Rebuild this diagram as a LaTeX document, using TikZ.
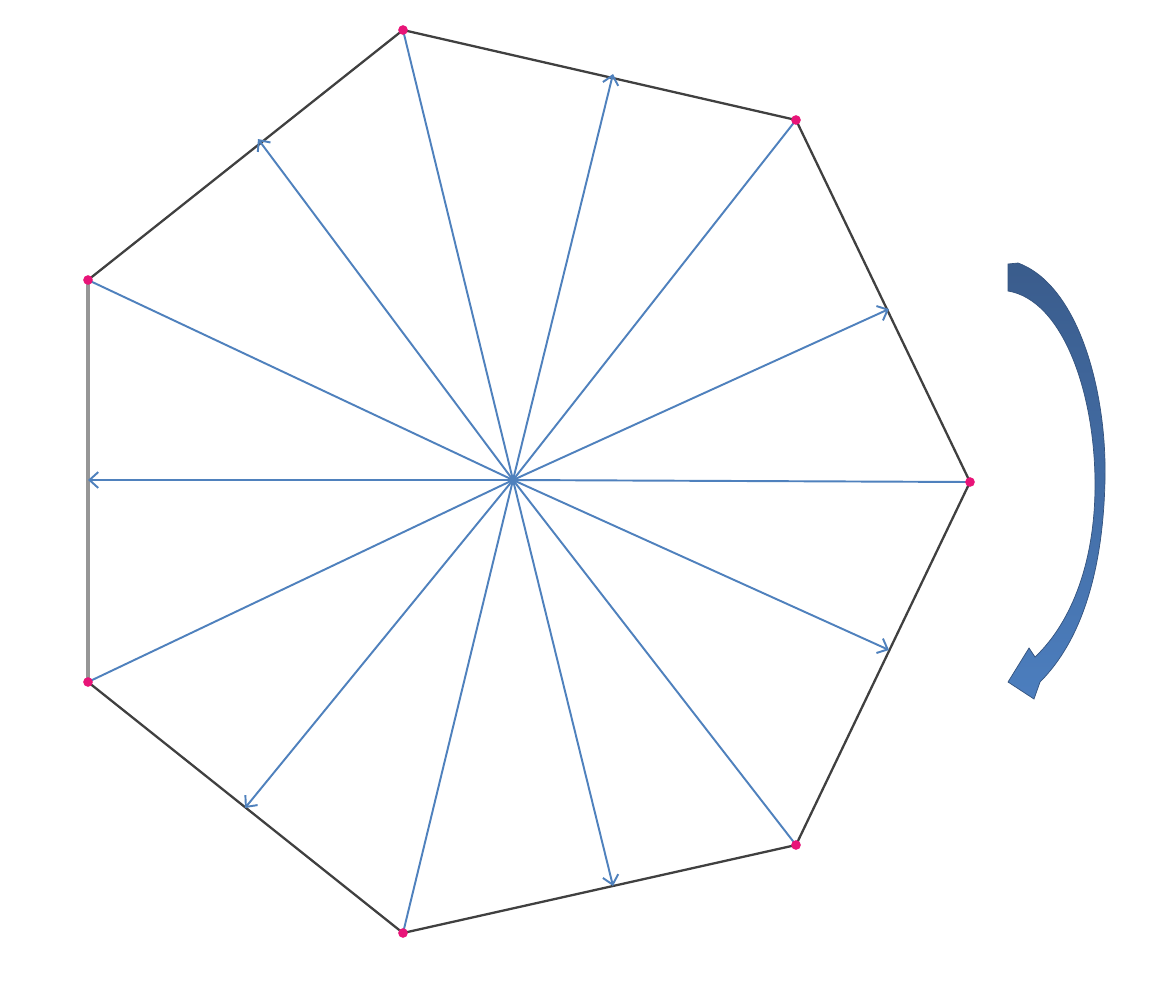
\documentclass[tikz,border=0pt]{standalone}
\usetikzlibrary{arrows.meta}
\definecolor{rayblue}{RGB}{79,129,189}
\definecolor{edgegray}{RGB}{64,64,64}
\definecolor{lightedge}{RGB}{150,150,150}
\definecolor{dotpink}{RGB}{232,20,120}
\definecolor{arrtop}{RGB}{58,92,140}
\definecolor{arrbot}{RGB}{76,126,190}
\tikzset{
  ray/.style={draw=rayblue, line width=1.1pt},
  rayarrow/.style={ray, -{Straight Barb[length=5pt,width=9pt,line width=1.1pt]}},
  edge/.style={draw=edgegray, line width=1.3pt},
  lightedgestyle/.style={draw=lightedge, line width=2pt},
  vdot/.style={circle, fill=dotpink, inner sep=0pt, minimum size=5.5pt},
}
\begin{document}
\begin{tikzpicture}[x=0.02cm, y=-0.02cm]
\useasboundingbox (0,0) rectangle (1170,988);
\fill[white] (0,0) rectangle (1170,988);
% center and vertices
\coordinate (C) at (513,480);
\coordinate (V0) at (970,482);
\coordinate (V1) at (796,845);
\coordinate (V2) at (403,933);
\coordinate (V3) at (88,682);
\coordinate (V4) at (88,280);
\coordinate (V5) at (403,30);
\coordinate (V6) at (796,120);
% edge targets
\coordinate (M56) at (613,74);
\coordinate (M60) at (889,309);
\coordinate (M01) at (889,650);
\coordinate (M12) at (613,886);
\coordinate (M23) at (245,808);
\coordinate (M34) at (88,480);
\coordinate (M45) at (258,139);
% edges
\draw[edge] (V4) -- (V5) -- (V6) -- (V0) -- (V1) -- (V2) -- (V3);
\draw[lightedgestyle] (V3) -- (V4);
% rays to vertices
\foreach \v in {V0,V1,V2,V3,V4,V5,V6} \draw[ray] (C) -- (\v);
% arrows to edges
\foreach \m in {M56,M60,M01,M12,M23,M34,M45} \draw[rayarrow] (C) -- (\m);
% vertex dots
\foreach \v in {V0,V1,V2,V3,V4,V5,V6} \node[vdot] at (\v) {};
% curved arrow
\path[top color=arrtop, bottom color=arrbot, draw=arrtop!90!black, line width=0.4pt]
  (1008,264) -- (1018,263)
  .. controls (1078,285) and (1107,390) .. (1105,480)
  .. controls (1103,570) and (1082,640) .. (1040,682)
  -- (1034,699) -- (1008,682) -- (1029,648) -- (1035,657)
  .. controls (1072,622) and (1096,560) .. (1095,480)
  .. controls (1094,390) and (1062,300) .. (1008,291) -- cycle;
\end{tikzpicture}
\end{document}
